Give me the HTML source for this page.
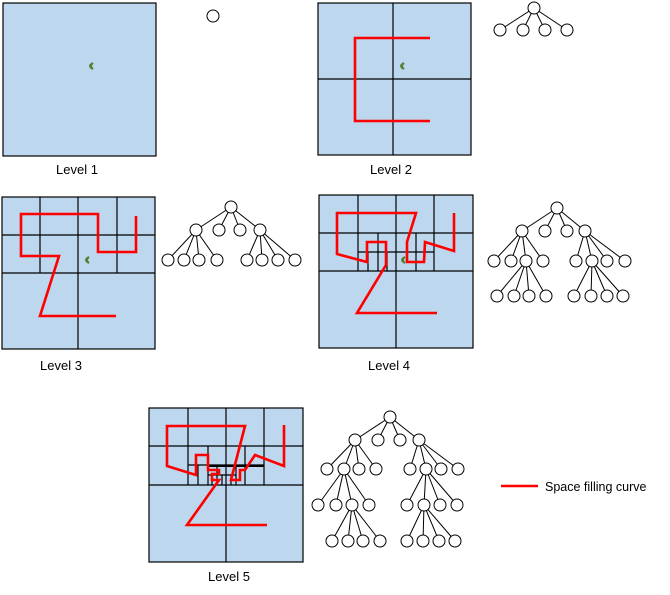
<!DOCTYPE html>
<html><head><style>
html,body{margin:0;padding:0;background:#fff;}
svg{display:block;}
text{font-family:"Liberation Sans",sans-serif;font-size:13px;fill:#000;}
</style></head><body>
<svg id="s" width="670" height="595" viewBox="0 0 670 595" xmlns="http://www.w3.org/2000/svg">
<g fill="#BDD7EE" stroke="#000" stroke-width="1.2">
<rect x="3" y="3" width="153" height="153"/>
<rect x="318" y="3" width="153" height="152"/>
<rect x="2" y="197" width="153" height="152"/>
<rect x="319" y="195" width="154" height="153"/>
<rect x="149" y="408" width="154" height="154"/>
</g>
<g stroke="#000" stroke-width="1.2" fill="none">
<path d="M393 3V155M318 79H471"/>
<path d="M78 197V349M2 273H155M40 197V273M117 197V273M2 235H155"/>
<path d="M396 195V348M319 271H473M358 195V271M434 195V271M319 233H473M378 233V271M416 233V271M358 252H434M368 252V271M387 252V271"/>
<path d="M226 408V562M149 485H303M188 408V485M264 408V485M149 446H303M208 446V485M245 446V485M188 465H264M198 465V485M217 465V485M236 465V485M208 475H236M212 475V485M222 475V485M231 475V485"/>
<path d="M208 466H264" stroke-width="2"/>
</g>
<g stroke="#f00" stroke-width="2.6" fill="none" stroke-linejoin="miter">
<path d="M430 38H355V121H430"/>
<path d="M136 216V252H98V214H21V256H59L40 316H116"/>
<path d="M454 213V251L425 242L424 262H407V242L416 213H337V254L367 262V242H386V265L357 313H437"/>
<path d="M284 425V466L255 455L245 470H240V480H231L245 426H167V466L196 475V455H208V470H219V474H212V480H219L187 525H267"/>
<path d="M501 486H538"/>
</g>
<g fill="#548235">
<path d="M93 63Q87 66 93 69Q89 66 93 63Z" stroke="#548235" stroke-width="2"/>
<path d="M404 63Q398 66 404 69Q400 66 404 63Z" stroke="#548235" stroke-width="2"/>
<path d="M89 257Q83 260 89 263Q85 260 89 257Z" stroke="#548235" stroke-width="2"/>
<path d="M405 257Q399 260 405 263Q401 260 405 257Z" stroke="#548235" stroke-width="2"/>
</g>
<g id="trees" stroke="#000" stroke-width="1" fill="#fff"></g>
<text x="56" y="174">Level 1</text>
<text x="370" y="174">Level 2</text>
<text x="40" y="370">Level 3</text>
<text x="368" y="370">Level 4</text>
<text x="208" y="581">Level 5</text>
<text x="545" y="491" style="font-size:12.5px">Space filling curve</text>
</svg>
<script>
var g=document.getElementById('trees'),ns='http://www.w3.org/2000/svg',lines=[],circ=[];
function T(p,cs){cs.forEach(function(c){lines.push([p[0],p[1],c[0],c[1]]);});}
function row(xs,y){return xs.map(function(x){return [x,y];});}
circ.push([213,16]);
var r=[534,8],c=row([500,523,545,567],30);T(r,c);circ.push(r);circ=circ.concat(c);
r=[231,207];c=row([196,219,240,260],230);T(r,c);circ.push(r);circ=circ.concat(c);
var a=row([168,184,199,217],260),b=row([247,262,278,295],260);T(c[0],a);T(c[3],b);circ=circ.concat(a,b);
r=[557,208];c=row([522,545,567,585],231);T(r,c);circ.push(r);circ=circ.concat(c);
a=row([494,511,526,543],261);b=row([576,592,607,625],261);T(c[0],a);T(c[3],b);circ=circ.concat(a,b);
var a2=row([497,514,529,546],296),b2=row([574,591,607,623],296);T(a[2],a2);T(b[1],b2);circ=circ.concat(a2,b2);
r=[390,417];c=row([355,378,400,419],440);T(r,c);circ.push(r);circ=circ.concat(c);
a=row([327,344,359,376],469);b=row([410,426,441,458],469);T(c[0],a);T(c[3],b);circ=circ.concat(a,b);
a2=row([318,336,352,369],505);b2=row([407,424,440,457],505);T(a[1],a2);T(b[1],b2);circ=circ.concat(a2,b2);
var a3=row([332,348,363,380],541),b3=row([407,423,439,455],541);T(a2[2],a3);T(b2[1],b3);circ=circ.concat(a3,b3);
lines.forEach(function(l){var e=document.createElementNS(ns,'line');e.setAttribute('x1',l[0]);e.setAttribute('y1',l[1]);e.setAttribute('x2',l[2]);e.setAttribute('y2',l[3]);g.appendChild(e);});
circ.forEach(function(p){var e=document.createElementNS(ns,'circle');e.setAttribute('cx',p[0]);e.setAttribute('cy',p[1]);e.setAttribute('r',6);g.appendChild(e);});
</script>
</body></html>
